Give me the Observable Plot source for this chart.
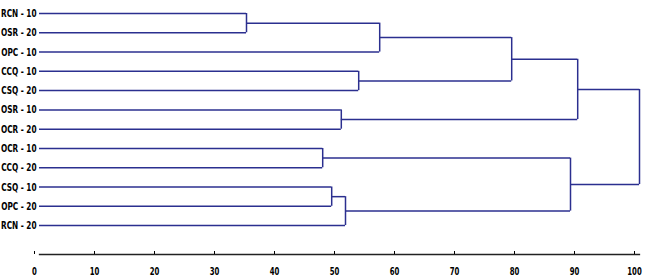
<!DOCTYPE html>
<html><head><meta charset="utf-8">
<script src="https://cdn.jsdelivr.net/npm/d3@7"></script>
<script src="https://cdn.jsdelivr.net/npm/@observablehq/plot@0.6"></script>
<style>
body{margin:0;background:#fff}
svg text{font-family:"DejaVu Sans Condensed","Liberation Sans Narrow",sans-serif;font-weight:bold}
</style>
</head><body><div id="chart"></div>
<script>
const leaves = ["RCN - 10","OSR - 20","OPC - 10","CCQ - 10","CSQ - 20","OSR - 10","OCR - 20","OCR - 10","CCQ - 20","CSQ - 10","OPC - 20","RCN - 20"];
// merge i creates cluster "c"+i
const mergeLeft   = ["RCN - 10","c0","CCQ - 10","OSR - 10","c1","c4","OCR - 10","CSQ - 10","c7","c6","c5"];
const mergeRight  = ["OSR - 20","OPC - 10","CSQ - 20","OCR - 20","c2","c3","CCQ - 20","OPC - 20","RCN - 20","c8","c9"];
const mergeHeight = [34.5, 56.7, 53.2, 50.3, 78.7, 89.7, 47.2, 48.7, 51.0, 88.5, 100];
const xTicks = [0,10,20,30,40,50,60,70,80,90,100];

const lineColor = "#2b2f8f";
const node = new Map();
leaves.forEach((name, i) => node.set(name, {x: 0, y: i}));
const hSegs = [], vSegs = [];
mergeHeight.forEach((h, i) => {
  const a = node.get(mergeLeft[i]), b = node.get(mergeRight[i]);
  hSegs.push({x1: a.x, x2: h, y: a.y});
  hSegs.push({x1: b.x, x2: h, y: b.y});
  vSegs.push({x: h, y1: a.y, y2: b.y});
  node.set("c" + i, {x: h, y: (a.y + b.y) / 2});
});

const chart = Plot.plot({
  width: 650, height: 280,
  marginLeft: 39, marginRight: 11, marginTop: 13, marginBottom: 26,
  x: {domain: [0, 100], label: null},
  y: {domain: [0, 12.5], reverse: true, label: null},
  marks: [
    Plot.ruleY(hSegs, {x1: "x1", x2: "x2", y: "y", stroke: lineColor, strokeWidth: 1.5}),
    Plot.ruleX(vSegs, {x: "x", y1: "y1", y2: "y2", stroke: lineColor, strokeWidth: 1.5}),
    Plot.frame({anchor: "bottom", stroke: "#222", strokeWidth: 1.3}),
    Plot.axisX({ticks: xTicks, tickSize: -3, tickPadding: 16, fontSize: 11, dx: -5, label: null}),
    Plot.axisY({ticks: d3.range(leaves.length), tickFormat: i => leaves[i], tickSize: 0, tickPadding: 3, fontSize: 11, label: null})
  ]
});
document.getElementById("chart").appendChild(chart);
// condense glyphs to match the narrow bold face of the original
d3.select(chart).selectAll("g[aria-label='y-axis tick label'] text").each(function() {
  const w = this.getComputedTextLength();
  this.setAttribute("textLength", w * 0.74);
  this.setAttribute("lengthAdjust", "spacingAndGlyphs");
});
d3.select(chart).selectAll("g[aria-label='x-axis tick label'] text").each(function() {
  const w = this.getComputedTextLength();
  this.setAttribute("textLength", w * 0.7);
  this.setAttribute("lengthAdjust", "spacingAndGlyphs");
});
</script>
</body></html>
